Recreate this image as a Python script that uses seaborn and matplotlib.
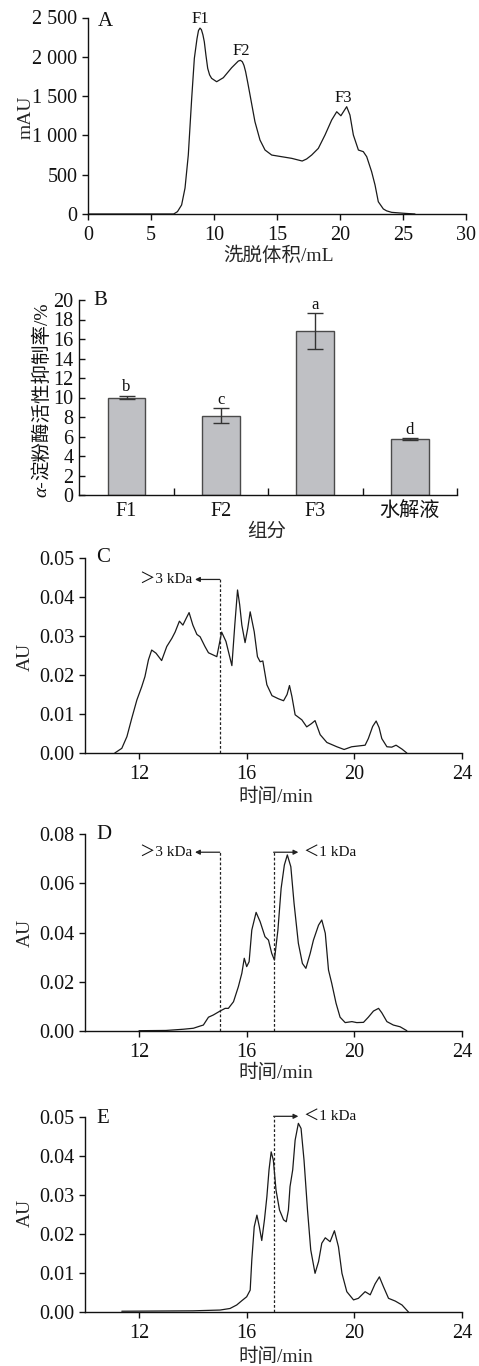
import numpy as np
import pandas as pd
import matplotlib
matplotlib.use("Agg")
import matplotlib.pyplot as plt
import seaborn as sns

# ---------------- data ----------------
# Panel A: elution profile
A_volume = [0, 6.8, 7.1, 7.43, 7.7, 7.96, 8.23, 8.44, 8.65, 8.77, 8.89, 9.0, 9.12, 9.23, 9.36, 9.5,
            9.65, 9.81, 10.21, 10.74, 11.4, 11.93, 12.1, 12.25, 12.38, 12.51, 12.68, 12.86, 13.25,
            13.65, 14.05, 14.58, 15.37, 16.17, 17.0, 17.35, 17.75, 18.28, 18.81, 19.34, 19.74,
            20.07, 20.53, 20.79, 21.06, 21.46, 21.85, 22.12, 22.51, 22.78, 23.04, 23.44, 23.7,
            24.1, 25.16, 25.95]
A_mAU = [0, 0, 30, 115, 330, 750, 1472, 1980, 2230, 2335, 2365, 2345, 2280, 2192, 2020, 1853,
         1770, 1726, 1683, 1734, 1861, 1946, 1955, 1937, 1890, 1810, 1670, 1514, 1174,
         941, 814, 750, 729, 708, 674, 700, 750, 835, 1005, 1196, 1301,
         1250, 1365, 1259, 1005, 814, 793, 729, 538, 369, 156, 64, 40,
         21, 8, 0]
A_peak_names = ["F1", "F2", "F3"]
A_peak_x = [8.89, 12.14, 20.25]
A_peak_y = [2430, 2020, 1430]
A_yticks = [0, 500, 1000, 1500, 2000, 2500]
A_yticklabels = ["0", "500", "1 000", "1 500", "2 000", "2 500"]
A_xticks = [0, 5, 10, 15, 20, 25, 30]

# Panel B: inhibition rate
B_groups = ["F1", "F2", "F3", "水解液"]
B_means = [10.0, 8.15, 16.78, 5.72]
B_errs = [0.2, 0.74, 1.85, 0.09]
B_letters = ["b", "c", "a", "d"]
B_yticks = [0, 2, 4, 6, 8, 10, 12, 14, 16, 18, 20]

# Panel C
C_time = [11.1, 11.36, 11.55, 11.73, 11.92, 12.1, 12.22, 12.35, 12.47, 12.63, 12.84, 13.03,
          13.22, 13.34, 13.5, 13.63, 13.75, 13.86, 14.0, 14.15, 14.27, 14.45, 14.58, 14.83,
          14.89, 15.07, 15.23, 15.45, 15.56, 15.66, 15.74, 15.82, 15.94, 16.04, 16.13, 16.28,
          16.4, 16.5, 16.6, 16.75, 16.94, 17.18, 17.37, 17.5, 17.59, 17.68, 17.8, 18.05, 18.23,
          18.4, 18.54, 18.73, 18.98, 19.35, 19.62, 19.9, 20.4, 20.52, 20.68, 20.81, 20.92,
          21.02, 21.21, 21.39, 21.55, 21.77, 21.95]
C_AU = [0, 0.0012, 0.0042, 0.0089, 0.0136, 0.017, 0.0196, 0.0239, 0.0264, 0.0256, 0.0237, 0.0273,
        0.0294, 0.031, 0.0338, 0.0328, 0.0345, 0.036, 0.0328, 0.0304, 0.0298, 0.0273, 0.0257, 0.0249,
        0.0247, 0.031, 0.0286, 0.0224, 0.033, 0.0418, 0.038, 0.0328, 0.0283, 0.032, 0.0362, 0.0311,
        0.0247, 0.0234, 0.0236, 0.0175, 0.0147, 0.0139, 0.0134, 0.015, 0.0173, 0.0145, 0.0098, 0.0085, 0.0067,
        0.0075, 0.0083, 0.0047, 0.0027, 0.0016, 0.0009, 0.0016, 0.002, 0.0037, 0.0068, 0.0082, 0.0065,
        0.0037, 0.0016, 0.0015, 0.002, 0.001, 0]

# Panel D
D_time = [12.0, 13.0, 13.65, 14.02, 14.27, 14.39, 14.58, 14.76, 15.01, 15.2, 15.32, 15.51, 15.69,
          15.82, 15.91, 16.0, 16.09, 16.19, 16.35, 16.5, 16.68, 16.81, 16.93, 17.03, 17.16, 17.28,
          17.4, 17.51, 17.64, 17.76, 17.92, 18.07, 18.2, 18.36, 18.48, 18.67, 18.79, 18.92, 19.04,
          19.16, 19.32, 19.47, 19.66, 19.91, 20.09, 20.34, 20.52, 20.71, 20.9, 21.02, 21.21, 21.45,
          21.7, 21.95]
D_AU = [0, 0.0001, 0.0006, 0.001, 0.0019, 0.0023, 0.0055, 0.0064, 0.008, 0.0091, 0.0091, 0.0118, 0.0179,
        0.0234, 0.0295, 0.0261, 0.0281, 0.041, 0.0482, 0.0444, 0.0383, 0.0369, 0.0315, 0.0288, 0.041, 0.058,
        0.0675, 0.0716, 0.0668, 0.0519, 0.0356, 0.0274, 0.0254, 0.0315, 0.0369, 0.043, 0.0451, 0.0397, 0.0247,
        0.0193, 0.0112, 0.0055, 0.0033, 0.0037, 0.0033, 0.0034, 0.0055, 0.008, 0.0091, 0.0073, 0.0037, 0.0023,
        0.0016, 0]

# Panel E
E_time = [11.36, 14.0, 15.01, 15.38, 15.63, 15.82, 16.0, 16.13, 16.19, 16.28, 16.38, 16.47, 16.56,
          16.66, 16.75, 16.83, 16.91, 16.99, 17.09, 17.22, 17.37, 17.47, 17.55, 17.61, 17.71, 17.8,
          17.92, 18.02, 18.13, 18.26, 18.38, 18.54, 18.67, 18.79, 18.92, 19.1, 19.26, 19.41, 19.54,
          19.72, 19.97, 20.15, 20.4, 20.59, 20.77, 20.93, 21.08, 21.27, 21.52, 21.77, 22.01]
E_AU = [0.0002, 0.0003, 0.0005, 0.0009, 0.0018, 0.0029, 0.0039, 0.0056, 0.0133, 0.0218, 0.0248, 0.0218,
        0.0183, 0.0236, 0.0295, 0.0364, 0.041, 0.0389, 0.0312, 0.0261, 0.0236, 0.0231, 0.0261, 0.0321,
        0.0364, 0.044, 0.0483, 0.047, 0.0389, 0.0261, 0.0159, 0.0099, 0.0129, 0.0176, 0.019, 0.018,
        0.0208, 0.0167, 0.0099, 0.0052, 0.0031, 0.0035, 0.0052, 0.0044, 0.0072, 0.009, 0.0065, 0.0035,
        0.0028, 0.0018, 0.0]

time_xticks = [12, 16, 20, 24]
C_yticks = [0.00, 0.01, 0.02, 0.03, 0.04, 0.05]
D_yticks = [0.00, 0.02, 0.04, 0.06, 0.08]
E_yticks = [0.00, 0.01, 0.02, 0.03, 0.04, 0.05]

# molecular-weight cut-offs (time, height of marker, arrow end, label)
C_cuts = [(15.0, 0.0445, 14.08, "＞3 kDa")]
D_cuts = [(15.0, 0.0727, 14.08, "＞3 kDa"), (17.0, 0.0727, 17.92, "＜1 kDa")]
E_cuts = [(17.0, 0.0501, 17.92, "＜1 kDa")]

# ---------------- style ----------------
sns.set_theme(style="ticks")
plt.rcParams["font.family"] = ["Liberation Serif", "Noto Sans CJK SC"]
plt.rcParams["axes.unicode_minus"] = False

TICK_FS = 14.5
LABEL_FS = 14
LINE_C = "#1a1a1a"

W, H = 479, 1366
fig = plt.figure(figsize=(W / 100, H / 100), dpi=100)


def add_ax(left, right, top, bottom):
    return fig.add_axes([left / W, 1 - bottom / H, (right - left) / W, (bottom - top) / H])


def style_ax(ax, direction="out"):
    sns.despine(ax=ax)
    for s in ["left", "bottom"]:
        ax.spines[s].set_linewidth(1.0)
        ax.spines[s].set_color("#111111")
    ax.tick_params(axis="both", which="major", direction=direction, length=4.5, width=1.0,
                   color="#111111", labelsize=TICK_FS, labelcolor="#111111", pad=3)
    ax.set_facecolor("none")


def panel_letter(ax, letter, fx, fy):
    ax.text(fx, fy, letter, transform=ax.transAxes, fontsize=15, ha="left", va="center",
            color="#111111")


# ---------------- Panel A ----------------
axA = add_ax(88, 466, 17.5, 214)
dfA = pd.DataFrame({"volume": A_volume, "mAU": A_mAU})
sns.lineplot(data=dfA, x="volume", y="mAU", ax=axA, color=LINE_C, linewidth=0.9,
             estimator=None, sort=False, solid_joinstyle="round")
axA.set_xlim(0, 30)
axA.set_ylim(0, 2500)
axA.set_xticks(A_xticks)
axA.set_yticks(A_yticks, A_yticklabels)
style_ax(axA)
axA.tick_params(axis="x", pad=4)
for name, px, py in zip(A_peak_names, A_peak_x, A_peak_y):
    axA.text(px, py, name, ha="center", va="baseline", fontsize=12, color="#111111")
axA.set_xlabel("洗脱体积/mL", fontsize=LABEL_FS, va="center")
axA.set_ylabel("mAU", fontsize=LABEL_FS, va="center", ha="center")
axA.xaxis.set_label_coords(0.503, -0.214)
axA.yaxis.set_label_coords(-0.165, 0.494)
panel_letter(axA, "A", 0.026, 0.982)

# ---------------- Panel B ----------------
axB = add_ax(79.3, 457, 300, 495)
dfB = pd.DataFrame({"group": B_groups, "rate": B_means})
sns.barplot(data=dfB, x="group", y="rate", ax=axB, color="#bfc0c4", edgecolor="#4a4a4a",
            linewidth=1.0, width=0.4, errorbar=None, saturation=1)
xpos = np.arange(len(B_groups))
axB.errorbar(xpos, B_means, yerr=B_errs, fmt="none", ecolor="#333333", elinewidth=1.0,
             capsize=6, capthick=1.0)
for xp, m, e, lt in zip(xpos, B_means, B_errs, B_letters):
    axB.text(xp, m + e + 0.45, lt, ha="center", va="baseline", fontsize=12, color="#111111")
axB.set_xlim(-0.5, len(B_groups) - 0.5)
axB.set_ylim(0, 20)
axB.set_yticks(B_yticks)
style_ax(axB, direction="in")
axB.set_xticks(xpos + 0.5, minor=True)
axB.tick_params(axis="x", which="major", length=0, pad=5)
axB.tick_params(axis="x", which="minor", direction="in", length=5, width=1.0, color="#111111")
axB.tick_params(axis="y", pad=4)
axB.set_xlabel("组分", fontsize=LABEL_FS, va="center")
axB.xaxis.set_label_coords(0.497, -0.19)
axB.set_ylabel("")
t_alpha = fig.text(41.7 / W, 1 - 496.7 / H, "α-", rotation=90, ha="center", va="bottom",
                   fontsize=LABEL_FS, style="italic", color="#111111")
axB.annotate("淀粉酶活性抑制率/%", xy=(0.5, 1.0), xycoords=t_alpha, rotation=90,
             ha="center", va="bottom", fontsize=LABEL_FS, color="#111111",
             annotation_clip=False)
panel_letter(axB, "B", 0.037, 0.995)


# ---------------- Panels C, D, E ----------------
def chrom_panel(top, bottom, times, values, yticks, ymax, cuts, letter, ylab_y, xlab_y, letter_y):
    ax = add_ax(85.2, 462, top, bottom)
    df = pd.DataFrame({"time": times, "AU": values})
    sns.lineplot(data=df, x="time", y="AU", ax=ax, color=LINE_C, linewidth=0.9,
                 estimator=None, sort=False, solid_joinstyle="round")
    ax.set_xlim(10, 24)
    ax.set_ylim(0, ymax)
    ax.set_xticks(time_xticks)
    ax.set_yticks(yticks, [f"{v:.2f}" for v in yticks])
    style_ax(ax)
    ax.tick_params(axis="x", pad=4)
    for xc, yh, xa, lab in cuts:
        ax.plot([xc, xc], [0, yh], linestyle=(0, (2.2, 1.6)), color="#222222", linewidth=0.9)
        ax.annotate("", xy=(xa, yh), xytext=(xc, yh),
                    arrowprops=dict(arrowstyle="-|>", color="#222222", lw=0.9,
                                    mutation_scale=7, shrinkA=0, shrinkB=0))
        if xa < xc:
            ax.text(xa - 0.1, yh, lab, ha="right", va="center", fontsize=11, color="#111111")
        else:
            ax.text(xa + 0.2, yh, lab, ha="left", va="center", fontsize=11, color="#111111")
    ax.set_xlabel("时间/min", fontsize=LABEL_FS, va="center")
    ax.set_ylabel("AU", fontsize=LABEL_FS, va="center", ha="center")
    ax.xaxis.set_label_coords(0.506, xlab_y)
    ax.yaxis.set_label_coords(-0.158, ylab_y)
    panel_letter(ax, letter, 0.029, letter_y)
    return ax


chrom_panel(558, 753, C_time, C_AU, C_yticks, 0.05, C_cuts, "C", 0.494, -0.226, 1.0)
chrom_panel(834.3, 1030.7, D_time, D_AU, D_yticks, 0.08, D_cuts, "D", 0.497, -0.215, 1.0)
chrom_panel(1116.7, 1312, E_time, E_AU, E_yticks, 0.05, E_cuts, "E", 0.507, -0.23, 0.993)

fig.savefig("out.png", dpi=100, facecolor="white")
